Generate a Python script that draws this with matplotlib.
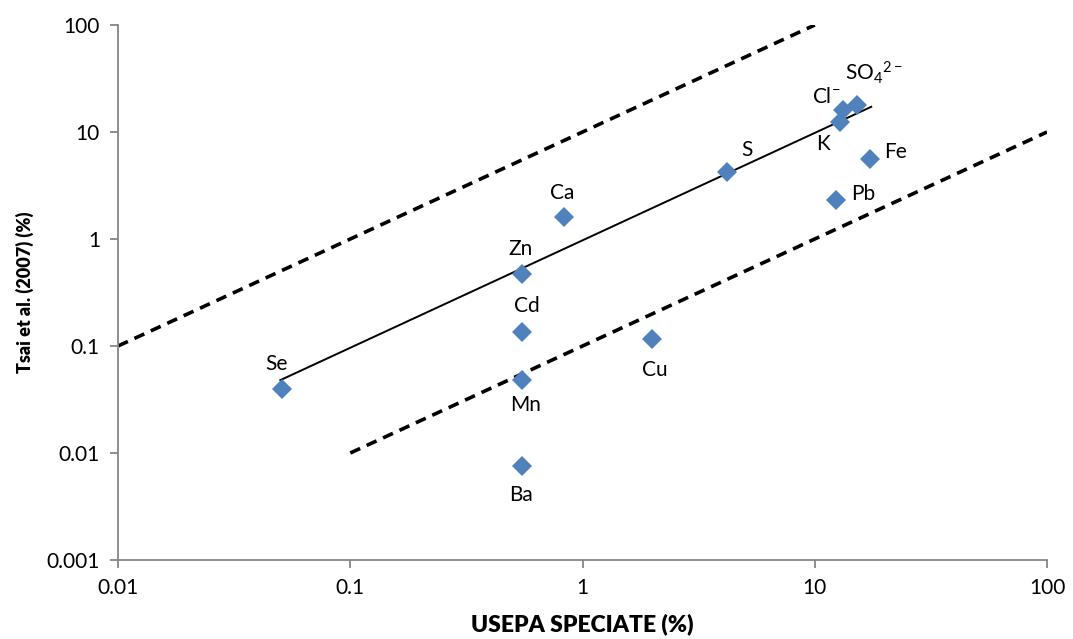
import matplotlib
matplotlib.use("Agg")
import matplotlib.pyplot as plt
from matplotlib.ticker import FixedLocator, NullLocator

plt.rcParams["font.family"] = ["Lato", "DejaVu Sans"]
plt.rcParams["mathtext.fontset"] = "custom"
plt.rcParams["mathtext.rm"] = "Lato"
plt.rcParams["mathtext.it"] = "Lato:italic"
plt.rcParams["mathtext.bf"] = "Lato:bold"

# data
species = ["Se", "Zn", "Cd", "Mn", "Ba", "Ca", "Cu", "S", "Pb", "Fe", "K",
           r"Cl$^{\mathrm{-}}$", r"SO$_{\mathrm{4}}$$^{\mathrm{2-}}$"]
usepa = [0.051, 0.55, 0.55, 0.55, 0.55, 0.83, 2.0, 4.2, 12.3, 17.3, 12.8, 13.2, 15.2]
tsai = [0.040, 0.47, 0.135, 0.048, 0.0076, 1.6, 0.116, 4.2, 2.3, 5.6, 12.4, 16.1, 17.9]
# label offsets in pixels (dx, dy)
offsets = [(-6, 25), (-2, 25), (5, 26), (3, -25), (-1, -29), (-2, 24), (2, -31),
           (20, 22), (28, 6), (25, 7), (-17, -22), (-17, 13), (17, 32)]

fit_x = [0.05, 17.5]
fit_y = [0.048, 17.2]
upper_x = [0.01, 10]
upper_y = [0.1, 100]
lower_x = [0.1, 100]
lower_y = [0.01, 10]

fig = plt.figure(figsize=(10.73, 6.39), dpi=100)
ax = fig.add_axes([0.110, 0.1236, 0.8658, 0.8373])
ax.set_xscale("log")
ax.set_yscale("log")
ax.set_xlim(0.01, 100)
ax.set_ylim(0.001, 100)

ax.plot(upper_x, upper_y, "k--", lw=2.6, dashes=(3, 2))
ax.plot(lower_x, lower_y, "k--", lw=2.6, dashes=(3, 2))
ax.plot(fit_x, fit_y, "k-", lw=1.4)
ax.plot(usepa, tsai, "D", color="#4F81BD", markersize=10, markeredgewidth=0, zorder=3)

for name, x, y, (dx, dy) in zip(species, usepa, tsai, offsets):
    ax.annotate(name, (x, y), xytext=(dx, dy), textcoords="offset pixels",
                ha="center", va="center", fontsize=15)

ax.xaxis.set_major_locator(FixedLocator([0.01, 0.1, 1, 10, 100]))
ax.yaxis.set_major_locator(FixedLocator([0.001, 0.01, 0.1, 1, 10, 100]))
ax.xaxis.set_minor_locator(NullLocator())
ax.yaxis.set_minor_locator(NullLocator())
ax.set_xticklabels(["0.01", "0.1", "1", "10", "100"])
ax.set_yticklabels(["0.001", "0.01", "0.1", "1", "10", "100"])
ax.tick_params(labelsize=15)

ax.spines["top"].set_visible(False)
ax.spines["right"].set_visible(False)
for s in ["left", "bottom"]:
    ax.spines[s].set_color("#868686")
    ax.spines[s].set_linewidth(1.3)
ax.tick_params(direction="out", length=6, width=1.3, color="#868686", pad=7)

ax.set_xlabel("USEPA SPECIATE (%)", fontsize=16.5, fontweight="heavy", labelpad=11)
ax.set_ylabel("Tsai et al. (2007) (%)", fontsize=13, fontweight="heavy", labelpad=9)

plt.savefig("out.png", dpi=100)
